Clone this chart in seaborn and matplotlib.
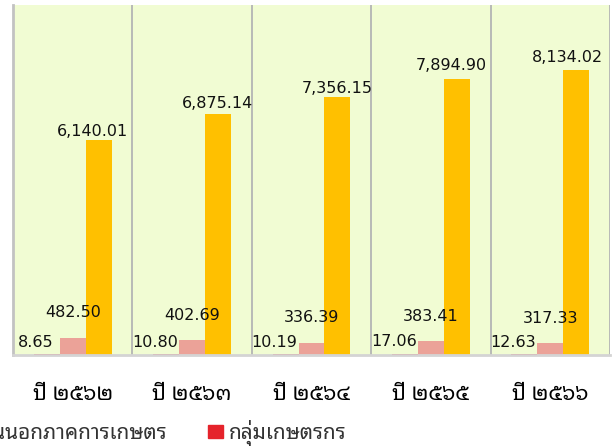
import matplotlib
matplotlib.use("Agg")
import matplotlib.pyplot as plt
from matplotlib.patches import Patch
from matplotlib.font_manager import FontProperties
import seaborn as sns
import pandas as pd

# loan balances per year (million baht)
years = ["ปี ๒๕๖๒", "ปี ๒๕๖๓", "ปี ๒๕๖๔", "ปี ๒๕๖๕", "ปี ๒๕๖๖"]
farmer_groups = [8.65, 10.80, 10.19, 17.06, 12.63]
non_farm = [482.50, 402.69, 336.39, 383.41, 317.33]
farmers = [6140.01, 6875.14, 7356.15, 7894.90, 8134.02]
series_names = ["กลุ่มเกษตรกร", "ผู้ประกอบการอื่นนอกภาคการเกษตร", "เกษตรกรรายบุคคล"]
colors = ["#E5232B", "#EBA298", "#FFC000"]

rows = []
for name, vals in zip(series_names, [farmer_groups, non_farm, farmers]):
    for y, v in zip(years, vals):
        rows.append({"year": y, "series": name, "value": v})
df = pd.DataFrame(rows)

thai = "Noto Sans Thai Looped"

fig = plt.figure(figsize=(6.14, 4.47), dpi=100)
ax = fig.add_axes([13 / 614, 1 - 354.5 / 447, 597 / 614, 349.5 / 447])
ax.set_facecolor("#F1FCD3")

sns.barplot(data=df, x="year", y="value", hue="series", hue_order=series_names,
            palette=colors, width=0.65, saturation=1, errorbar=None,
            legend=False, ax=ax, zorder=3)

ax.set_ylim(0, 10000)
ax.set_xlim(-0.5, len(years) - 0.5)
ax.set_yticks([])
ax.set_xlabel("")
ax.set_ylabel("")
for x in range(len(years) + 1):
    ax.axvline(x - 0.5, color="#B4B4B4", lw=1.3, zorder=1)

for s in ["top", "right"]:
    ax.spines[s].set_visible(False)
ax.spines["left"].set_color("#C2C2C2")
ax.spines["left"].set_linewidth(2)
ax.spines["bottom"].set_color("#D4D4D4")
ax.spines["bottom"].set_linewidth(2)
ax.spines["bottom"].set_zorder(4)

ax.tick_params(axis="x", length=0, pad=21)
for lab in ax.get_xticklabels():
    lab.set_fontfamily([thai, "DejaVu Sans"])
    lab.set_fontweight("bold")
    lab.set_fontsize(15.5)

# value labels, nudged like the original
nudges = {0: (-11, 12), 1: (0, 25)}
orange_nudges = [(-6, 8), (0, 11), (0, 9), (-5, 13), (-9, 13)]
for i, cont in enumerate(ax.containers):
    for j, bar in enumerate(cont):
        dx, dy = orange_nudges[j] if i == 2 else nudges[i]
        ax.annotate(f"{bar.get_height():,.2f}",
                    (bar.get_x() + bar.get_width() / 2, bar.get_height()),
                    xytext=(dx, dy), textcoords="offset pixels",
                    ha="center", va="center", fontsize=11.5, color="#111111",
                    zorder=5)

handles = [Patch(color=colors[2]), Patch(color=colors[1]), Patch(color=colors[0])]
labels = [series_names[2], series_names[1], series_names[0]]
fig.legend(handles, labels, ncol=3, frameon=False, loc="center right",
           bbox_to_anchor=(346 / 614, 1 - 433 / 447),
           prop=FontProperties(family=[thai, "DejaVu Sans"], size=15, weight="semibold"),
           labelcolor="#333333", handlelength=0.72, handleheight=0.63,
           handletextpad=0.25, columnspacing=2.0, borderpad=0, borderaxespad=0)

fig.savefig("out.png", dpi=100)
